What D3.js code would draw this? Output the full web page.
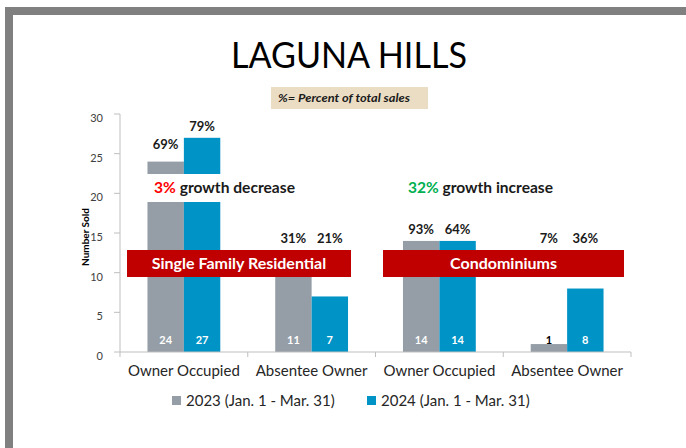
<!DOCTYPE html>
<html>
<head>
<meta charset="utf-8">
<script src="https://cdn.jsdelivr.net/npm/d3@7"></script>
<style>
  body { margin: 0; background: #fff; }
  svg text { font-family: Lato, "Open Sans", sans-serif; }
</style>
</head>
<body>
<div class="chart"></div>
<script>
// data
const categories = ['Owner Occupied', 'Absentee Owner', 'Owner Occupied', 'Absentee Owner'];
const catKeys = ['sfr-oo', 'sfr-ao', 'con-oo', 'con-ao'];
const series = ['2023 (Jan. 1 - Mar. 31)', '2024 (Jan. 1 - Mar. 31)'];
const sales2023 = [24, 11, 14, 1];
const sales2024 = [27, 7, 14, 8];
const pct2023 = ['69%', '31%', '93%', '7%'];
const pct2024 = ['79%', '21%', '64%', '36%'];
const yTicks = [0, 5, 10, 15, 20, 25, 30];
const colors = ['#959ea6', '#0093c6'];

const width = 686;
const height = 448;

const svg = d3.select('.chart').append('svg')
    .attr('width', width)
    .attr('height', height);

// slide frame
svg.append('rect').attr('x', 5).attr('y', 7).attr('width', 8).attr('height', height - 7).attr('fill', '#808080');
svg.append('rect').attr('x', 5).attr('y', 7).attr('width', width - 5).attr('height', 8).attr('fill', '#808080');

// title
svg.append('text')
  .attr('x', 349).attr('y', 68)
  .attr('text-anchor', 'middle')
  .attr('font-size', 36)
  .attr('textLength', 236).attr('lengthAdjust', 'spacingAndGlyphs')
  .attr('fill', '#000')
  .text('LAGUNA HILLS');

// note box
svg.append('rect').attr('x', 271).attr('y', 87).attr('width', 157).attr('height', 22).attr('fill', '#ebddc4');
svg.append('text')
  .attr('x', 278).attr('y', 102)
  .attr('font-size', 12).attr('font-weight', 'bold').attr('font-style', 'italic')
  .attr('textLength', 132).attr('lengthAdjust', 'spacingAndGlyphs')
  .attr('fill', '#1a1a1a')
  .text('%= Percent of total sales');

// scales
const y = d3.scaleLinear().domain([0, 30]).range([352, 114]);
const x = d3.scaleBand().domain(catKeys).range([120, 631]).paddingInner(0.43).paddingOuter(0.215);
const xSub = d3.scaleBand().domain([0, 1]).range([0, x.bandwidth()]);

const rows = catKeys.map((k, i) => ({
  key: k,
  label: categories[i],
  bars: [
    { s: 0, v: sales2023[i], pct: pct2023[i] },
    { s: 1, v: sales2024[i], pct: pct2024[i] }
  ]
}));

// y axis
const yAxis = svg.append('g').attr('transform', 'translate(120,0)');
yAxis.append('line').attr('y1', y(30)).attr('y2', y(0)).attr('stroke', '#bfbfbf');
yAxis.selectAll('.ytick')
  .data(yTicks)
  .enter()
  .append('line')
    .attr('x1', -6).attr('x2', 0)
    .attr('y1', d => y(d)).attr('y2', d => y(d))
    .attr('stroke', '#bfbfbf');
yAxis.selectAll('.ylab')
  .data(yTicks)
  .enter()
  .append('text')
    .attr('x', -17)
    .attr('y', d => y(d) + 8)
    .attr('text-anchor', 'end')
    .attr('font-size', 11)
    .attr('fill', '#404040')
    .text(d => d);

svg.append('text')
  .attr('transform', 'translate(89,237) rotate(-90)')
  .attr('text-anchor', 'middle')
  .attr('font-size', 10).attr('font-weight', 'bold')
  .attr('fill', '#000')
  .text('Number Sold');

// bars
const groups = svg.selectAll('.group')
  .data(rows)
  .enter()
  .append('g')
    .attr('class', 'group')
    .attr('transform', d => `translate(${x(d.key)},0)`);

groups.selectAll('rect')
  .data(d => d.bars)
  .enter()
  .append('rect')
    .attr('x', d => xSub(d.s))
    .attr('y', d => y(d.v))
    .attr('width', xSub.bandwidth())
    .attr('height', d => y(0) - y(d.v))
    .attr('fill', d => colors[d.s]);

// count labels at the bottom of each bar
groups.selectAll('.count')
  .data(d => d.bars)
  .enter()
  .append('text')
    .attr('x', d => xSub(d.s) + xSub.bandwidth() / 2)
    .attr('y', 344)
    .attr('text-anchor', 'middle')
    .attr('font-size', 11).attr('font-weight', 'bold')
    .attr('fill', d => d.v < 3 ? '#000' : '#fff')
    .text(d => d.v);

// percent labels above bars (pushed above the banner when the bar is hidden)
groups.selectAll('.pct')
  .data(d => d.bars)
  .enter()
  .append('text')
    .attr('x', d => xSub(d.s) + xSub.bandwidth() / 2)
    .attr('y', d => Math.min(y(d.v), 250) - (d.v > 20 && d.s === 0 ? 13 : 7))
    .attr('text-anchor', 'middle')
    .attr('font-size', 13).attr('font-weight', 'bold')
    .attr('fill', '#1a1a1a')
    .text(d => d.pct);

// white strip over the first group for the growth note
svg.append('rect').attr('x', 140).attr('y', 174).attr('width', 90).attr('height', 28).attr('fill', '#fff');

function growthNote(xPos, pct, color, rest, len){
  const t = svg.append('text')
    .attr('x', xPos).attr('y', 193)
    .attr('font-size', 16).attr('font-weight', 'bold')
    .attr('textLength', len).attr('lengthAdjust', 'spacingAndGlyphs')
    .attr('fill', '#1a1a1a');
  t.append('tspan').attr('fill', color).text(pct);
  t.append('tspan').text(rest);
}
growthNote(154, '3%', '#ff0000', ' growth decrease', 141);
growthNote(408, '32%', '#00b050', ' growth increase', 145);

// x axis
const xAxis = svg.append('g');
xAxis.append('line').attr('x1', 120).attr('x2', 631).attr('y1', y(0)).attr('y2', y(0)).attr('stroke', '#bfbfbf');
const bounds = catKeys.map(k => x(k) - x.step() * x.paddingInner() / 2).concat([631]);
bounds[0] = 120;
xAxis.selectAll('.xtick')
  .data(bounds)
  .enter()
  .append('line')
    .attr('x1', d => d).attr('x2', d => d)
    .attr('y1', y(0)).attr('y2', y(0) + 5)
    .attr('stroke', '#bfbfbf');
xAxis.selectAll('.xlab')
  .data(rows)
  .enter()
  .append('text')
    .attr('x', d => x(d.key) + x.bandwidth() / 2)
    .attr('y', 376)
    .attr('text-anchor', 'middle')
    .attr('font-size', 15)
    .attr('fill', '#262626')
    .text(d => d.label);

// banners
const banners = [
  { text: 'Single Family Residential', x0: 127, x1: 351 },
  { text: 'Condominiums', x0: 383, x1: 624 }
];
banners.forEach(b => {
  svg.append('rect').attr('x', b.x0).attr('y', 250).attr('width', b.x1 - b.x0).attr('height', 27).attr('fill', '#c00000');
  svg.append('text')
    .attr('x', (b.x0 + b.x1) / 2).attr('y', 269)
    .attr('text-anchor', 'middle')
    .attr('font-size', 16).attr('font-weight', 'bold')
    .attr('fill', '#fff')
    .text(b.text);
});

// legend
const legendX = [172, 367];
const legend = svg.selectAll('.legend')
  .data(series)
  .enter()
  .append('g')
    .attr('transform', (d, i) => `translate(${legendX[i]},396)`);
legend.append('rect').attr('width', 9).attr('height', 9).attr('fill', (d, i) => colors[i]);
legend.append('text')
  .attr('x', 14).attr('y', 10)
  .attr('font-size', 15)
  .attr('fill', '#262626')
  .text(d => d);
</script>
</body>
</html>
